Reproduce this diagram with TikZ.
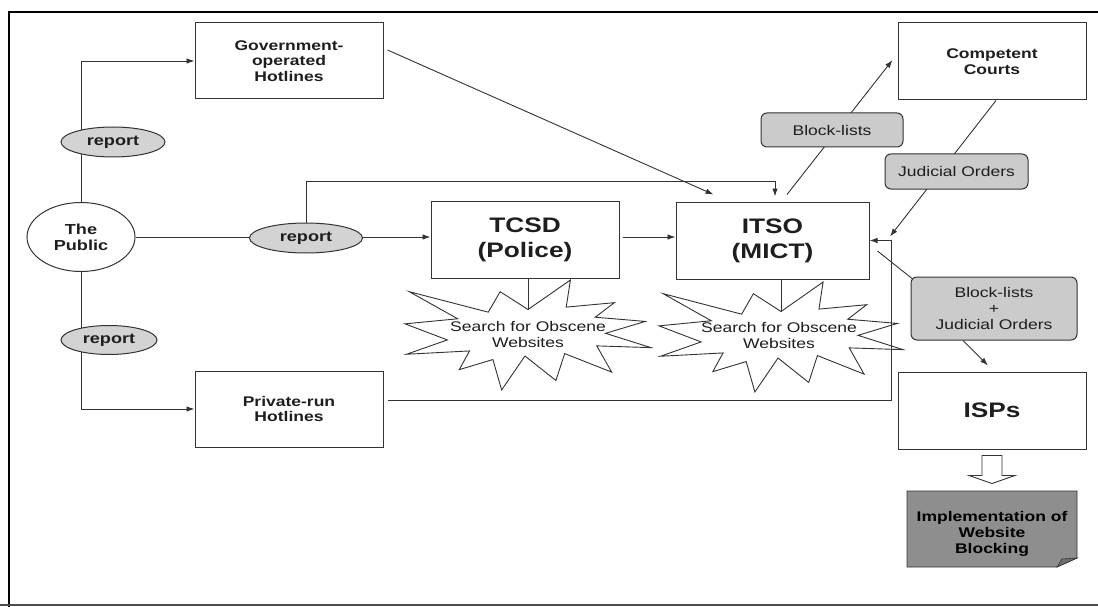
\documentclass[tikz,border=0pt]{standalone}
\usepackage{fontspec}
\setmainfont{Liberation Sans}[FakeStretch=1.25]
\usetikzlibrary{arrows.meta,calc,backgrounds,shapes.geometric}

\definecolor{ln}{HTML}{333333}
\definecolor{repfill}{HTML}{D3D3D3}
\definecolor{lblfill}{HTML}{CBCBCB}
\definecolor{implfill}{HTML}{8E8E8E}
\definecolor{foldfill}{HTML}{6E6E6E}
\definecolor{txt}{HTML}{1E1E1E}

\begin{document}
\begin{tikzpicture}[x=1pt,y=-1pt,
  every node/.style={text=txt},
  conn/.style={draw=ln, line width=0.9pt},
  arr/.style={conn, -{Latex[length=8pt,width=5.5pt]}},
  box/.style={draw=ln, line width=1pt, fill=white, align=center, inner sep=0pt,
    font=\fontsize{14}{15.7}\selectfont\bfseries},
  bigbox/.style={box, font=\fontsize{21}{25}\selectfont\bfseries},
  oval/.style={ellipse, draw=ln, line width=1pt, fill=white, align=center, inner sep=0pt,
    font=\fontsize{14.5}{16}\selectfont\bfseries},
  reportoval/.style={oval, fill=repfill},
  labelbox/.style={draw=ln, line width=1pt, fill=lblfill, rounded corners=6pt, align=center,
    inner sep=0pt, font=\fontsize{14}{16}\selectfont},
  startext/.style={align=center, inner sep=0pt, font=\fontsize{14}{16}\selectfont},
  starline/.style={draw=ln, line width=0.9pt},
  framelines/.style={draw=black, line width=2.5pt}
]
\useasboundingbox (0,0) rectangle (1098,607);

% frame
\draw[framelines] (9,607) -- (9,12) -- (1098,12);
\draw[draw=gray!60!black, line width=1.2pt] (0,605) -- (1098,605);

% nodes
\node[box, minimum width=188pt, minimum height=76pt] (gov) at (289,61) {Government-\\operated\\Hotlines};
\node[oval, minimum width=108pt, minimum height=69pt] (pub) at (81,237) {The\\Public};
\node[reportoval, minimum width=104pt, minimum height=30pt] (rep1) at (113,142) {report};
\node[reportoval, minimum width=113pt, minimum height=30pt] (rep2) at (306,238) {report};
\node[reportoval, minimum width=96pt, minimum height=29pt] (rep3) at (109,340) {report};
\node[box, minimum width=188pt, minimum height=76pt] (priv) at (289,409) {Private-run\\Hotlines};
\node[bigbox, minimum width=188pt, minimum height=77pt] (tcsd) at (525,239.5) {TCSD\\(Police)};
\node[bigbox, minimum width=193pt, minimum height=77pt] (itso) at (772.5,240.5) {ITSO\\(MICT)};
\node[box, minimum width=188pt, minimum height=77pt] (courts) at (992,61.5) {Competent\\Courts};
\node[labelbox, minimum width=142pt, minimum height=34pt] (bl) at (832,130) {Block-lists};
\node[labelbox, minimum width=143pt, minimum height=35pt] (jo) at (956.5,171.5) {Judicial Orders};
\node[labelbox, minimum width=166pt, minimum height=63pt] (bljo) at (994,308.5) {Block-lists\\+\\Judicial Orders};
\node[bigbox, minimum width=188pt, minimum height=77pt] (isps) at (992,410.5) {ISPs};

% explosion shapes (Search for Obscene Websites)
\begin{scope}[shift={(405,280)}, x=1.139pt, y=-0.509pt]
  \draw[starline] (108,58) -- (145.22,0) -- (141.55,53.25) -- (183.80,44.57) -- (167.02,73.15)
    -- (210.97,81.37) -- (176.07,104.75) -- (216,132.90) -- (168.37,129.42) -- (181.45,180.95)
    -- (140.20,144.57) -- (132.47,197.37) -- (105.32,149.35) -- (84.85,216) -- (77.15,156.27)
    -- (47.62,176.17) -- (56.67,139.37) -- (1.35,145.87) -- (37.22,117.75) -- (0,86.15)
    -- (46.27,76.17) -- (3.70,22.95) -- (73.12,63.20) -- (83.52,22.95) -- cycle;
  \coordinate (s1top) at (108,58);
\end{scope}
\begin{scope}[shift={(659,282)}, x=1.13pt, y=-0.509pt]
  \draw[starline] (108,58) -- (145.22,0) -- (141.55,53.25) -- (183.80,44.57) -- (167.02,73.15)
    -- (210.97,81.37) -- (176.07,104.75) -- (216,132.90) -- (168.37,129.42) -- (181.45,180.95)
    -- (140.20,144.57) -- (132.47,197.37) -- (105.32,149.35) -- (84.85,216) -- (77.15,156.27)
    -- (47.62,176.17) -- (56.67,139.37) -- (1.35,145.87) -- (37.22,117.75) -- (0,86.15)
    -- (46.27,76.17) -- (3.70,22.95) -- (73.12,63.20) -- (83.52,22.95) -- cycle;
  \coordinate (s2top) at (108,58);
\end{scope}
\node[startext] (star1) at (528,334) {Search for Obscene\\Websites};
\node[startext] (star2) at (779,335) {Search for Obscene\\Websites};

% implementation box with folded corner
\fill[implfill] (907,491) -- (1077,491) -- (1077,558) -- (1057,567) -- (907,567) -- cycle;
\draw[ln, line width=0.8pt] (907,491) -- (1077,491) -- (1077,558) -- (1057,567) -- (907,567) -- cycle;
\filldraw[fill=foldfill, draw=ln, line width=0.6pt] (1057,567) -- (1062,559) -- (1077,558) -- cycle;
\node[align=center, inner sep=0pt, text=black, font=\fontsize{14}{16}\selectfont\bfseries]
  (impl) at (992,534) {Implementation of\\Website\\Blocking};

% hollow arrow ISPs -> implementation
\draw[ln, line width=0.9pt, fill=white]
  ($(isps.south)+(-10,6)$) -- ($(isps.south)+(10,6)$) -- ($(isps.south)+(10,26)$)
  -- ($(isps.south)+(23,26)$) -- ($(isps.south)+(0,34)$) -- ($(isps.south)+(-23,26)$)
  -- ($(isps.south)+(-10,26)$) -- cycle;

% connectors (behind the nodes)
\begin{pgfonlayer}{background}
  \fill[white] (0,0) rectangle (1098,607);
  \coordinate (c1) at (775,181);
  \coordinate (c2) at (891,240.5);
  \coordinate (c3) at (891,400);
  \draw[arr] (pub.north) |- (gov.west);
  \draw[arr] (pub.south) |- (priv.west);
  \draw[arr] (pub.east) -- (pub.east -| tcsd.west);
  \draw[arr] (rep2.north) |- (c1) -- ($(c1 |- itso.north)+(0,-5)$);
  \draw[arr] ($(gov.east)+(4,-11)$) -- ($(itso.north)+(-59,-7)$);
  \draw[arr] ($(tcsd.east)+(3,-2.5)$) -- ($(tcsd.east -| itso.west)+(0,-2.5)$);
  \draw[conn] (s1top |- tcsd.south) -- (s1top);
  \draw[conn] (s2top |- itso.south) -- (s2top);
  \draw[arr] ($(itso.north)+(14.5,-7)$) -- ($(courts.west)+(-5,-1.5)$);
  \draw[arr] ($(courts.south)+(4,0)$) -- ($(c2)+(-1,-4)$);
  \draw[arr] ($(priv.east)+(4,-9)$) -- (c3) -- (c2) -- (itso.east);
  \draw[conn] ($(itso.east)+(8,10.5)$) -- ($(bljo.north west)+(4,4)$);
  \draw[arr] ($(bljo.south)+(-31,0)$) -- ($(isps.north)+(-4,-6)$);
\end{pgfonlayer}
\end{tikzpicture}
\end{document}
